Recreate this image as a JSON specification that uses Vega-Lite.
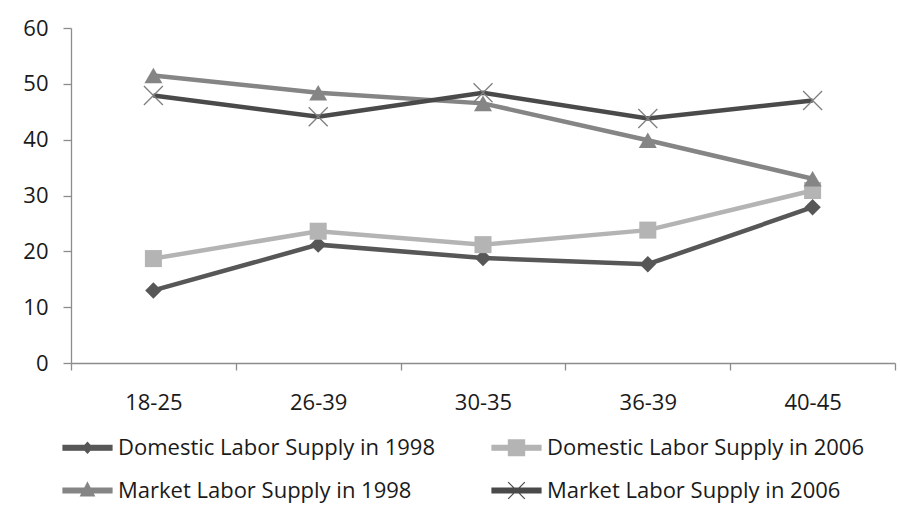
{
  "$schema": "https://vega.github.io/schema/vega-lite/v6.json",
  "width": 824,
  "height": 335,
  "autosize": {"type": "none"},
  "padding": {"left": 71, "top": 28, "right": 5, "bottom": 145},
  "background": "white",
  "config": {
    "view": {"stroke": null},
    "font": "Open Sans",
    "axis": {
      "grid": false,
      "title": null,
      "domainColor": "#8c8c8c",
      "domainWidth": 1.3,
      "tickColor": "#8c8c8c",
      "tickWidth": 1.3,
      "labelFont": "Open Sans",
      "labelFontSize": 22,
      "labelColor": "#1a1a1a"
    }
  },
  "data": {
    "values": [
      {"age": "18-25", "series": "Domestic Labor Supply in 1998", "value": 13.0},
      {"age": "26-39", "series": "Domestic Labor Supply in 1998", "value": 21.2},
      {"age": "30-35", "series": "Domestic Labor Supply in 1998", "value": 18.8},
      {"age": "36-39", "series": "Domestic Labor Supply in 1998", "value": 17.7},
      {"age": "40-45", "series": "Domestic Labor Supply in 1998", "value": 27.9},
      {"age": "18-25", "series": "Domestic Labor Supply in 2006", "value": 18.7},
      {"age": "26-39", "series": "Domestic Labor Supply in 2006", "value": 23.6},
      {"age": "30-35", "series": "Domestic Labor Supply in 2006", "value": 21.2},
      {"age": "36-39", "series": "Domestic Labor Supply in 2006", "value": 23.8},
      {"age": "40-45", "series": "Domestic Labor Supply in 2006", "value": 30.9},
      {"age": "18-25", "series": "Market Labor Supply in 1998", "value": 51.5},
      {"age": "26-39", "series": "Market Labor Supply in 1998", "value": 48.4},
      {"age": "30-35", "series": "Market Labor Supply in 1998", "value": 46.5},
      {"age": "36-39", "series": "Market Labor Supply in 1998", "value": 39.9},
      {"age": "40-45", "series": "Market Labor Supply in 1998", "value": 33.0},
      {"age": "18-25", "series": "Market Labor Supply in 2006", "value": 47.9},
      {"age": "26-39", "series": "Market Labor Supply in 2006", "value": 44.1},
      {"age": "30-35", "series": "Market Labor Supply in 2006", "value": 48.4},
      {"age": "36-39", "series": "Market Labor Supply in 2006", "value": 43.8},
      {"age": "40-45", "series": "Market Labor Supply in 2006", "value": 47.0}
    ]
  },
  "encoding": {
    "x": {
      "field": "age",
      "type": "nominal",
      "sort": ["18-25", "26-39", "30-35", "36-39", "40-45"],
      "scale": {"type": "band", "paddingInner": 0, "paddingOuter": 0},
      "axis": {
        "labelAngle": 0,
        "tickBand": "extent",
        "tickSize": 7,
        "labelPadding": 22,
        "labelBaseline": "top"
      }
    },
    "y": {
      "field": "value",
      "type": "quantitative",
      "scale": {"domain": [0, 60], "nice": false},
      "axis": {
        "values": [0, 10, 20, 30, 40, 50, 60],
        "tickSize": 8,
        "labelPadding": 15
      }
    },
    "color": {
      "field": "series",
      "type": "nominal",
      "scale": {
        "domain": [
          "Domestic Labor Supply in 1998",
          "Domestic Labor Supply in 2006",
          "Market Labor Supply in 1998",
          "Market Labor Supply in 2006"
        ],
        "range": ["#575757", "#b4b4b4", "#858585", "#4a4a4a"]
      },
      "legend": {
        "title": null,
        "orient": "none",
        "direction": "horizontal",
        "legendX": -9,
        "legendY": 394,
        "columns": 2,
        "columnPadding": 53,
        "rowPadding": 6,
        "padding": 0,
        "symbolSize": 2401,
        "symbolStrokeWidth": 0,
        "symbolOffset": 0,
        "labelOffset": 5,
        "labelLimit": 500,
        "labelFont": "Open Sans",
        "labelFontSize": 22,
        "labelColor": "#1a1a1a",
        "encode": {
          "symbols": {
            "update": {
              "shape": {
                "signal": "datum.value === 'Domestic Labor Supply in 1998' ? 'M-1,-0.1H1V0.1H-1Z M0,-0.22L0.2,0L0,0.22L-0.2,0Z' : datum.value === 'Domestic Labor Supply in 2006' ? 'M-1,-0.1H1V0.1H-1Z M-0.33,-0.32H0.33V0.32H-0.33Z' : datum.value === 'Market Labor Supply in 1998' ? 'M-1,-0.1H1V0.1H-1Z M0,-0.32L0.28,0.22L-0.28,0.22Z' : 'M-1,-0.1H1V0.1H-1Z M-0.34,-0.34L0.34,0.34M-0.34,0.34L0.34,-0.34'"
              },
              "size": {"value": 2401},
              "strokeWidth": {"value": 1.2},
              "opacity": {"value": 1}
            }
          }
        }
      }
    }
  },
  "layer": [
    {"mark": {"type": "line", "strokeWidth": 4.5}},
    {
      "transform": [{"filter": "datum.series === 'Domestic Labor Supply in 1998'"}],
      "mark": {"type": "point", "filled": true, "opacity": 1, "shape": "diamond", "size": 270}
    },
    {
      "transform": [{"filter": "datum.series === 'Domestic Labor Supply in 2006'"}],
      "mark": {"type": "point", "filled": true, "opacity": 1, "shape": "square", "size": 290}
    },
    {
      "transform": [{"filter": "datum.series === 'Market Labor Supply in 1998'"}],
      "mark": {"type": "point", "filled": true, "opacity": 1, "shape": "triangle-up", "size": 324}
    },
    {
      "transform": [{"filter": "datum.series === 'Market Labor Supply in 2006'"}],
      "mark": {"type": "point", "filled": false, "opacity": 1, "shape": "M-1,-1L1,1M-1,1L1,-1", "size": 361, "strokeWidth": 1.3},
      "encoding": {"color": {"value": "#7f7f7f"}}
    }
  ]
}
